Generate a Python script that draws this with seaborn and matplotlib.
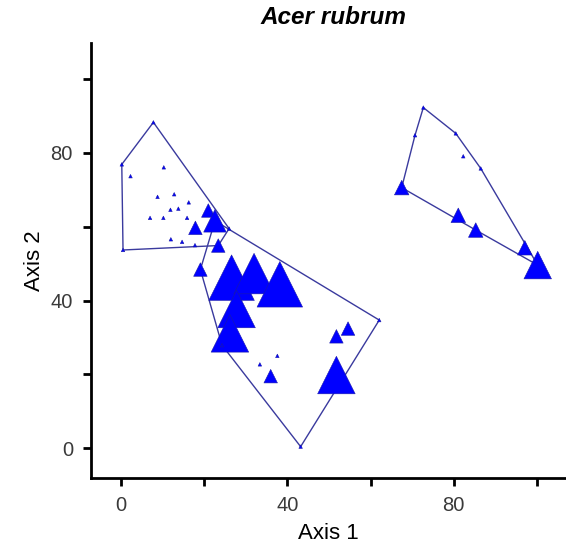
import numpy as np
import pandas as pd
import matplotlib
matplotlib.use("Agg")
import matplotlib.pyplot as plt
import seaborn as sns

# Ordination scores of the sample plots (Axis 1, Axis 2), the group each plot
# belongs to, and the abundance of Acer rubrum in that plot.
axis1 = [
    # group A
    0.2, 7.8, 0.5, 2.3, 10.3, 8.8, 12.8, 16.3, 11.9, 13.8, 7.0, 10.2, 15.9,
    12.0, 14.7, 17.8, 26.0, 17.9, 21.0, 23.4,
    # group B
    22.6, 19.1, 26.6, 32.0, 38.2, 27.8, 26.2, 24.3, 54.6, 51.8, 51.8, 36.0,
    33.4, 37.6, 62.1, 43.2,
    # group C
    72.7, 70.7, 80.5, 82.3, 86.5, 67.5, 81.1, 85.3, 97.1, 100.2,
]
axis2 = [
    76.9, 88.3, 53.7, 73.7, 76.1, 68.1, 68.8, 66.6, 64.6, 64.9, 62.4, 62.4, 62.4,
    56.6, 55.9, 55.0, 59.5, 59.7, 64.4, 54.9,
    61.6, 48.4, 46.2, 47.3, 44.4, 37.7, 31.1, 27.9, 32.4, 30.3, 19.8, 19.5,
    22.7, 25.0, 34.7, 0.4,
    92.3, 84.8, 85.3, 79.1, 75.8, 70.6, 63.1, 59.1, 54.3, 49.6,
]
group = ["A"] * 20 + ["B"] * 16 + ["C"] * 10
abundance = [
    0, 0, 0, 0, 0, 0, 0, 0, 0, 0, 0, 0, 0,
    0, 0, 0, 0, 10, 10, 10,
    19, 10, 42, 37, 42, 34, 34, 0, 10, 10, 34, 10,
    0, 0, 0, 0,
    0, 0, 0, 0, 0, 11, 11, 11, 11, 24,
]

x_ticks = [0, 20, 40, 60, 80, 100]
y_ticks = [0, 20, 40, 60, 80, 100]
tick_labels = ["0", "", "40", "", "80", ""]

df = pd.DataFrame({"axis1": axis1, "axis2": axis2,
                   "group": group, "abundance": abundance})

DPI = 100
# symbol width grows linearly with abundance (area = width^2 in points^2)
size_map = {v: (0.72 * (v + 3.5)) ** 2 for v in sorted(set(abundance))}


def convex_hull(pts):
    pts = sorted(set(pts))
    if len(pts) < 3:
        return pts

    def cross(o, a, b):
        return (a[0] - o[0]) * (b[1] - o[1]) - (a[1] - o[1]) * (b[0] - o[0])

    lower, upper = [], []
    for p in pts:
        while len(lower) >= 2 and cross(lower[-2], lower[-1], p) <= 0:
            lower.pop()
        lower.append(p)
    for p in reversed(pts):
        while len(upper) >= 2 and cross(upper[-2], upper[-1], p) <= 0:
            upper.pop()
        upper.append(p)
    return lower[:-1] + upper[:-1]


sns.set_theme(style="ticks")
plt.rcParams["font.family"] = ["Liberation Sans", "DejaVu Sans"]

fig = plt.figure(figsize=(5.66, 5.52), dpi=DPI)
ax = fig.add_axes([91 / 566, 74 / 552, 1 - 91 / 566, (478 - 43) / 552])

# group outlines
for g, sub in df.groupby("group"):
    hull = convex_hull(list(zip(sub["axis1"], sub["axis2"])))
    hx = [p[0] for p in hull] + [hull[0][0]]
    hy = [p[1] for p in hull] + [hull[0][1]]
    ax.plot(hx, hy, color="#3a3a9e", lw=1.0, zorder=2)

sns.scatterplot(data=df, x="axis1", y="axis2", size="abundance",
                sizes=size_map, marker="^", color="#0000ff",
                edgecolor="#1a1aa8", linewidth=0.4, legend=False, ax=ax,
                zorder=3)

ax.set_xlim(-7.2, 107)
ax.set_ylim(-8.1, 109.8)
ax.set_xticks(x_ticks)
ax.set_xticklabels(tick_labels)
ax.set_yticks(y_ticks)
ax.set_yticklabels(tick_labels)
ax.tick_params(axis="both", direction="out", length=6, width=2, color="black",
               labelsize=14.5, labelcolor="#3a3a3a", pad=7)

for side in ["top", "right"]:
    ax.spines[side].set_visible(False)
for side in ["left", "bottom"]:
    ax.spines[side].set_linewidth(2)
    ax.spines[side].set_color("black")

ax.set_xlabel("Axis 1", fontsize=16, color="black", labelpad=6)
ax.set_ylabel("Axis 2", fontsize=16, color="black", labelpad=4)

fig.text(333 / 566, 1 - 18 / 552, "Acer rubrum", ha="center", va="center",
         fontsize=17.5, fontweight="bold", fontstyle="italic", color="black")

fig.savefig("out.png", dpi=DPI)
